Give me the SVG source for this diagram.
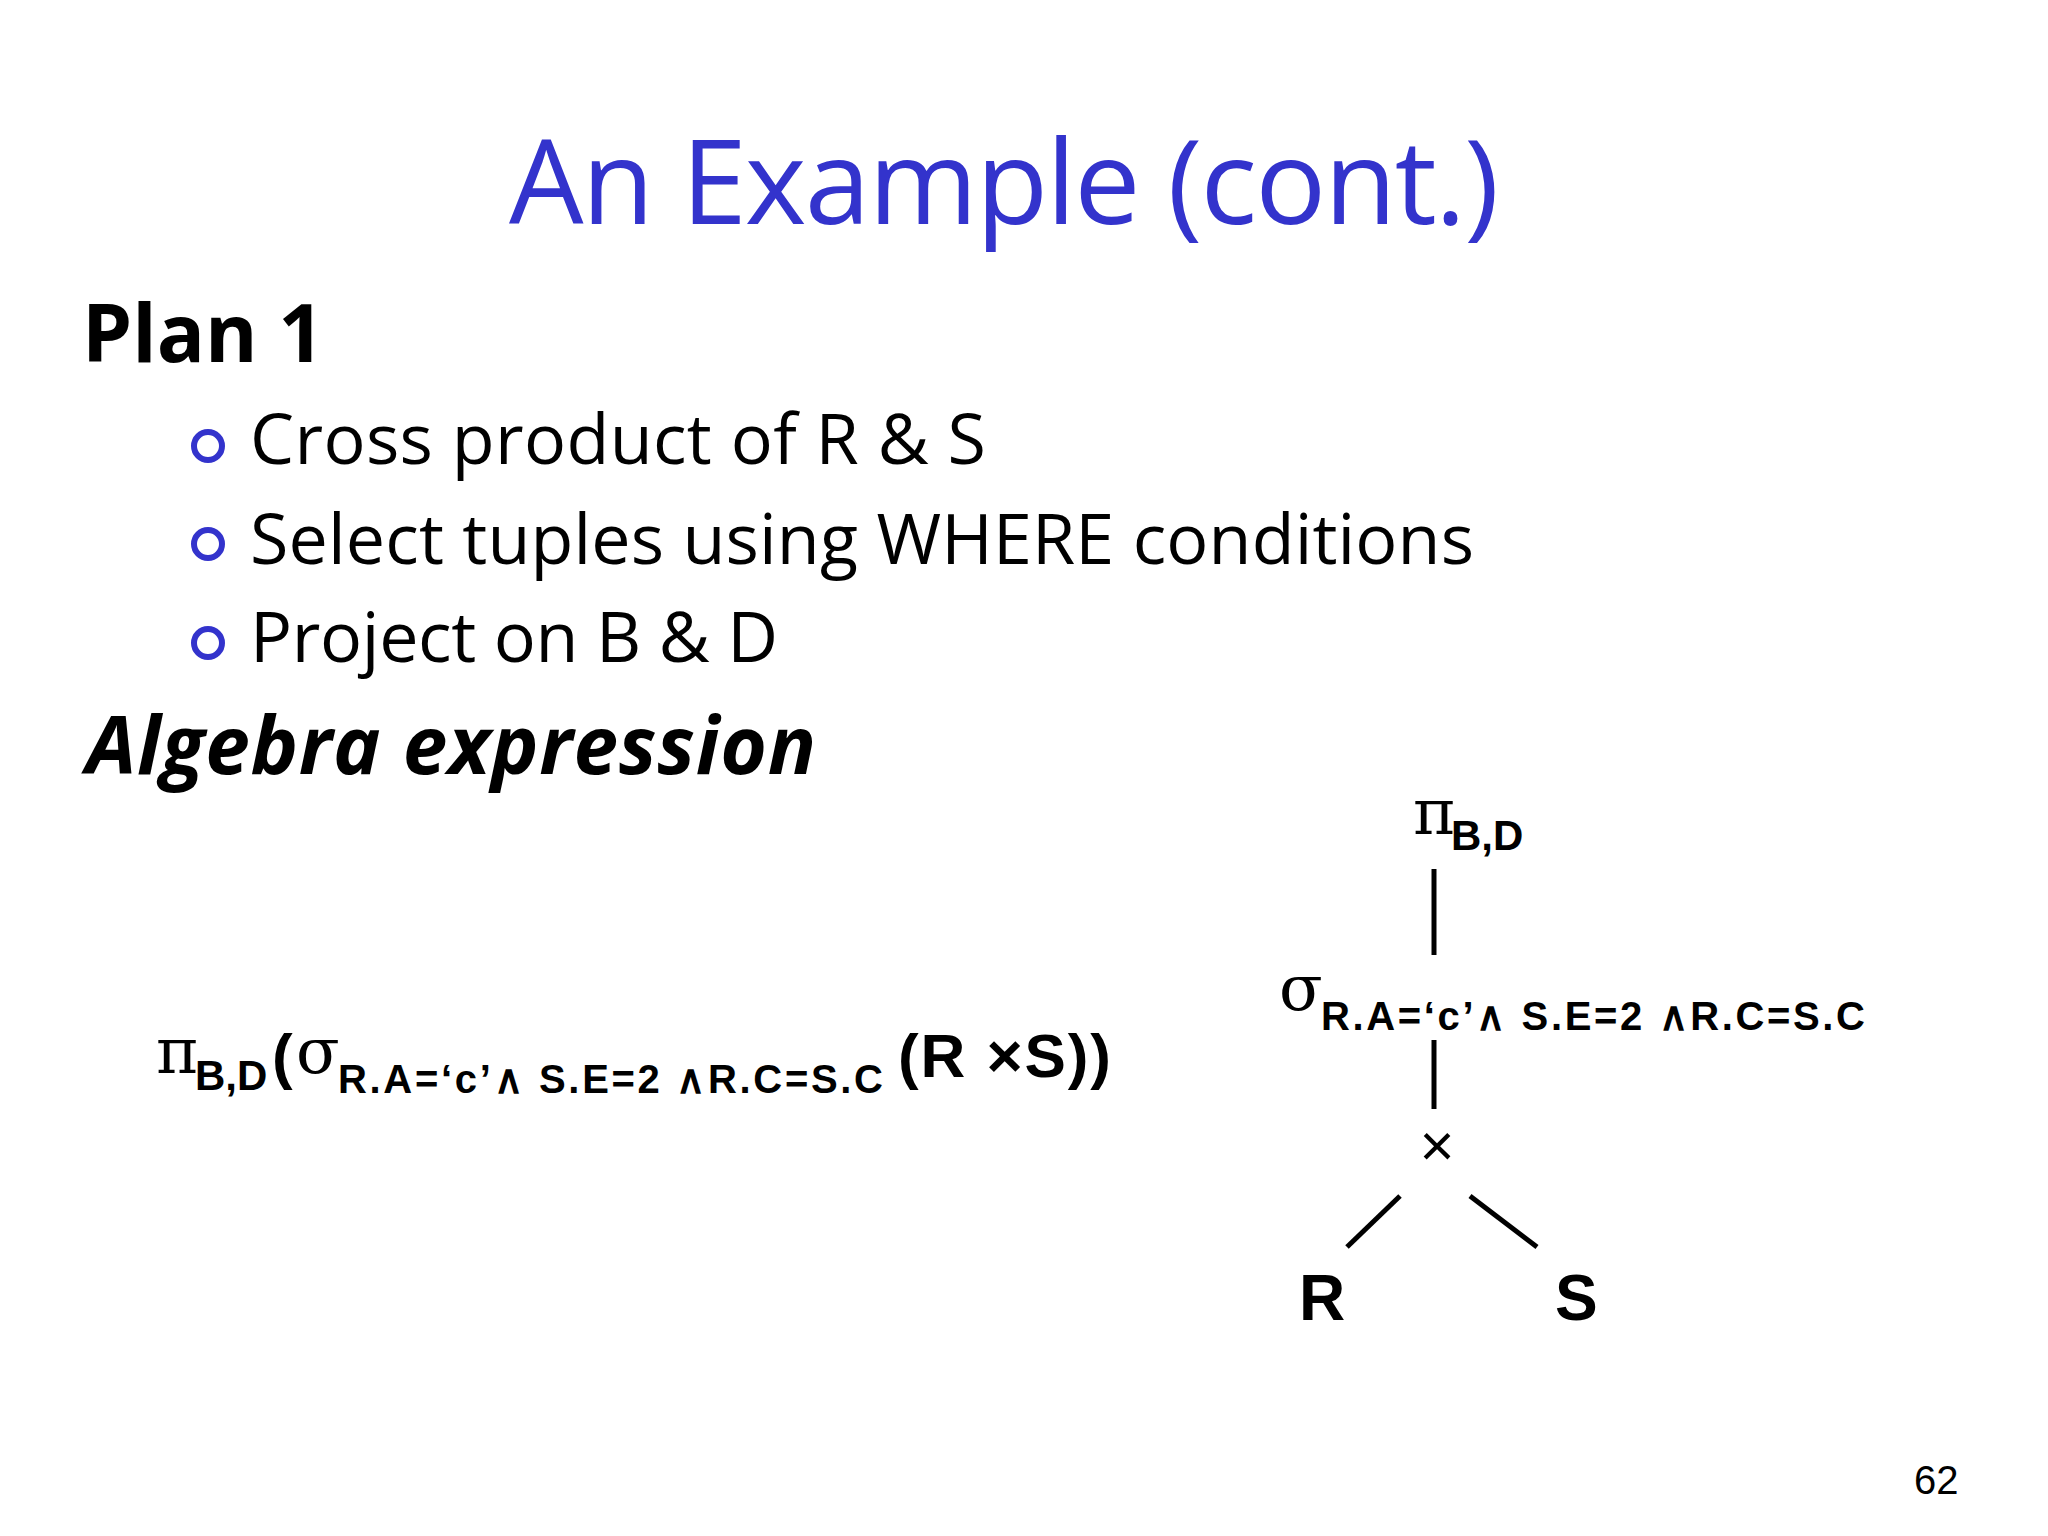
<svg xmlns="http://www.w3.org/2000/svg" width="2048" height="1536" viewBox="0 0 2048 1536">
<style>
.t{font-family:"Open Sans","DejaVu Sans",sans-serif;fill:#000}
.b{font-family:"Liberation Sans",Arial,sans-serif;font-weight:bold;fill:#000}
.g{font-family:"DejaVu Serif","Liberation Serif",serif;fill:#000}
.ln{stroke:#000;stroke-width:5;fill:none}
</style>
<rect width="2048" height="1536" fill="#fff"/>
<text x="1004" y="224" text-anchor="middle" class="t" style="fill:#3333cc;font-size:118px" textLength="990">An Example (cont.)</text>
<text x="82" y="362" class="t" style="font-size:80px;font-weight:bold">Plan 1</text>
<g fill="#fff" stroke="#3333cc" stroke-width="6">
<circle cx="208" cy="446" r="14"/><circle cx="208" cy="544" r="14"/><circle cx="208" cy="643" r="14"/>
</g>
<text x="250" y="464" class="t" style="font-size:70px" textLength="736">Cross product of R &amp; S</text>
<text x="250" y="564" class="t" style="font-size:70px" textLength="1224">Select tuples using WHERE conditions</text>
<text x="250" y="662" class="t" style="font-size:70px" textLength="528">Project on B &amp; D</text>
<text x="86" y="774" class="t" style="font-size:80px;font-weight:bold;font-style:italic" textLength="730">Algebra expression</text>
<g id="expr">
<text x="156" y="1073" class="g" style="font-size:64px">π</text>
<text x="195" y="1090" class="b" style="font-size:42px">B,D</text>
<text x="272" y="1077" class="b" style="font-size:62px">(</text>
<text x="296" y="1073" class="g" style="font-size:64px">σ</text>
<text x="338" y="1093" class="b" style="font-size:40px" textLength="545">R.A=‘c’∧ S.E=2 ∧R.C=S.C</text>
<text x="898" y="1077" class="b" style="font-size:62px" textLength="213">(R ×S))</text>
</g>
<g id="pi"><text x="1413" y="834" class="g" style="font-size:64px">π</text><text x="1451" y="850" class="b" style="font-size:42px">B,D</text></g>
<g id="sigma"><text x="1279" y="1010" class="g" style="font-size:64px">σ</text><text x="1321" y="1030" class="b" style="font-size:40px" textLength="544">R.A=‘c’∧ S.E=2 ∧R.C=S.C</text></g>
<g id="cross"><text x="1437" y="1166" text-anchor="middle" class="b" style="font-size:60px;font-weight:normal">×</text></g>
<g id="R"><text x="1299" y="1320" class="b" style="font-size:64px">R</text></g>
<g id="S"><text x="1555" y="1320" class="b" style="font-size:64px">S</text></g>
<g id="connectors">
<line class="ln" x1="1434" y1="869" x2="1434" y2="955"/>
<line class="ln" x1="1434" y1="1040" x2="1434" y2="1109"/>
<line class="ln" x1="1400" y1="1196" x2="1347" y2="1247"/>
<line class="ln" x1="1470" y1="1196" x2="1537" y2="1247"/>
</g>
<text x="1914" y="1494" class="b" style="font-size:40px;font-weight:normal">62</text>
</svg>
